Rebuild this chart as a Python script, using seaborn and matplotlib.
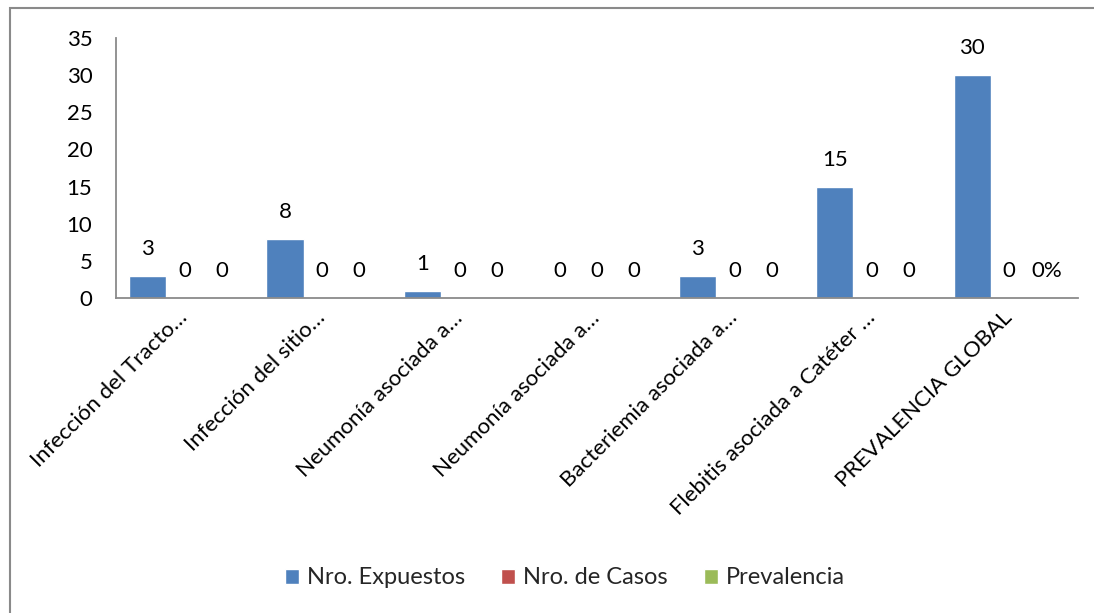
import matplotlib
matplotlib.use("Agg")
import matplotlib.pyplot as plt
from matplotlib.patches import Rectangle
import seaborn as sns
import pandas as pd

categories = [
    "Infección del Tracto…",
    "Infección del sitio…",
    "Neumonía asociada a…",
    "Neumonía asociada a…",
    "Bacteriemia asociada a…",
    "Flebitis asociada a Catéter …",
    "PREVALENCIA GLOBAL",
]
series_names = ["Nro. Expuestos", "Nro. de Casos", "Prevalencia"]
expuestos = [3, 8, 1, 0, 3, 15, 30]
casos = [0, 0, 0, 0, 0, 0, 0]
prevalencia = [0, 0, 0, 0, 0, 0, 0]
prevalencia_labels = ["0", "0", "0", "0", "0", "0", "0%"]
colors = ["#4F81BD", "#C0504D", "#9BBB59"]
yticks = [0, 5, 10, 15, 20, 25, 30, 35]

sns.set_style("white")
plt.rcParams["font.family"] = ["Lato", "DejaVu Sans"]
FS = 16

cat_ids = [f"c{i}" for i in range(len(categories))]
rows = []
for name, vals in zip(series_names, [expuestos, casos, prevalencia]):
    for cid, v in zip(cat_ids, vals):
        rows.append({"cat": cid, "serie": name, "valor": v})
df = pd.DataFrame(rows)

fig = plt.figure(figsize=(10.94, 6.13), dpi=100)
ax = fig.add_axes([116 / 1094, 1 - 298 / 613, (1078 - 116) / 1094, (298 - 38) / 613])

sns.barplot(data=df, x="cat", y="valor", hue="serie", order=cat_ids,
            hue_order=series_names, palette=colors, width=0.81,
            saturation=1, ax=ax, legend=True)

ax.set_ylim(0, 35)
ax.set_yticks(yticks)
ax.set_xlim(-0.5, len(categories) - 0.5)
ax.set_xlabel("")
ax.set_ylabel("")
ax.set_xticks(range(len(categories)))
ax.set_xticklabels(categories, rotation=45, ha="right", va="center",
                   rotation_mode="anchor")
ax.tick_params(axis="both", length=0, labelsize=FS, colors="black")
ax.tick_params(axis="y", pad=17)
ax.tick_params(axis="x", pad=12)

for sp in ["top", "right"]:
    ax.spines[sp].set_visible(False)
for sp in ["left", "bottom"]:
    ax.spines[sp].set_color("#8a8a8a")
    ax.spines[sp].set_linewidth(1.3)

label_sets = [[str(v) for v in expuestos], [str(v) for v in casos], prevalencia_labels]
for cont, labs in zip(ax.containers, label_sets):
    ax.bar_label(cont, labels=labs, padding=12, fontsize=FS, color="black")

handles, labels = ax.get_legend_handles_labels()
ax.get_legend().remove()
fig.legend(handles, labels, loc="center", bbox_to_anchor=(565 / 1094, 1 - 578 / 613),
           ncol=3, frameon=False, fontsize=17, handlelength=0.6, handleheight=0.6,
           handletextpad=0.35, columnspacing=1.5)

fig.patches.append(Rectangle((10 / 1094, -0.05), 1.1, 1 - 8 / 613 + 0.05,
                             transform=fig.transFigure, fill=False,
                             edgecolor="#8a8a8a", linewidth=1.5, zorder=0))

fig.savefig("out.png", dpi=100)
